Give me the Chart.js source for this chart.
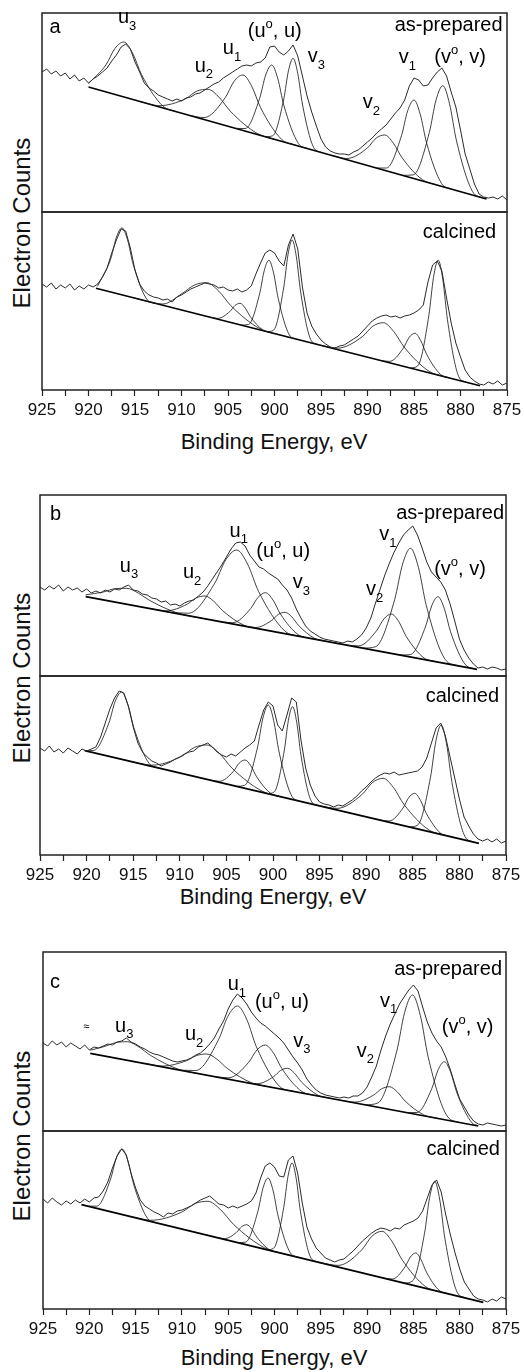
<!DOCTYPE html>
<html>
<head>
<meta charset="utf-8">
<script src="https://cdn.jsdelivr.net/npm/chart.js@4.4.1/dist/chart.umd.min.js"></script>
<style>
  html, body { margin: 0; padding: 0; background: #fff; }
  body { position: relative; width: 524px; height: 1372px; overflow: hidden;
         font-family: "Liberation Sans", Arial, Helvetica, sans-serif; color: #111; }
  canvas { position: absolute; }
  .xtitle { position: absolute; font-size: 22px; line-height: 22px; white-space: nowrap; transform: translateX(-50%); }
  .ytitle { position: absolute; font-size: 24px; line-height: 24px; white-space: nowrap;
            transform: translate(-50%, -50%) rotate(-90deg); }
</style>
</head>
<body>
<div class="xtitle" style="left:274px;top:431px">Binding Energy, eV</div>
<div class="xtitle" style="left:273px;top:886px">Binding Energy, eV</div>
<div class="xtitle" style="left:274px;top:1347px">Binding Energy, eV</div>
<div class="ytitle" style="left:22px;top:223px">Electron Counts</div>
<div class="ytitle" style="left:22px;top:678px">Electron Counts</div>
<div class="ytitle" style="left:22px;top:1136px">Electron Counts</div>
<script>
// binding energy grid of the spectra, 925 -> 875 eV in 0.5 eV steps
const energy = Array.from({ length: 101 }, (_, i) => 925 - i * 0.5);
const xTickLabels = [925, 920, 915, 910, 905, 900, 895, 890, 885, 880, 875];

// raw counts (arbitrary units), one value per energy step
const aTopCounts = [140,143,138,141,136,139,133,137,131,134, 129,133,136,140,144,151,157,165,168,163,
  150,140,129,124,121,117,115,113,111,113, 111,114,115,118,119,122,125,128,130,134,
  137,140,143,146,147,146,149,150,154,165, 166,160,157,161,167,156,136,116,100,86,
  73,65,61,59,58,58,57,60,62,66, 70,74,79,83,87,93,99,104,112,126,
  134,132,126,127,134,140,144,136,120,105, 82,58,43,28,18,15,14,15,13,16, 12];
const aBotCounts = [106,103,107,101,105,102,106,100,104,101, 105,103,106,113,122,137,150,161,159,142,
  120,106,99,95,93,92,90,91,88,93, 95,98,101,103,105,107,106,105,102,103,
  100,99,101,98,100,104,116,127,137,140, 137,129,124,145,156,141,103,77,64,56,
  50,46,43,42,44,45,48,51,54,59, 64,69,72,74,75,73,74,72,74,75,
  77,80,85,108,125,129,119,92,67,47, 33,20,13,9,6,5,8,6,9,5, 7];
const bTopCounts = [89,86,90,87,91,85,89,86,88,84, 87,83,85,83,86,84,87,86,89,91,
  86,85,82,81,78,77,74,75,71,72, 70,73,75,76,80,84,90,97,104,111,
  119,127,133,134,130,121,115,109,107,103, 100,97,91,86,78,67,58,50,45,42,
  39,37,36,35,34,33,35,34,37,41, 48,58,73,87,101,113,124,133,141,146,
  150,141,128,114,104,99,94,86,72,55, 37,26,18,12,8,9,7,9,8,6, 7];
const bBotCounts = [107,104,109,103,106,102,107,104,101,106, 104,106,108,118,132,146,157,164,162,148,
  128,112,103,98,94,92,89,91,93,96, 98,101,103,104,108,110,112,108,103,100,
  98,101,99,103,107,110,114,130,145,153, 149,130,124,140,157,153,115,87,70,59,
  53,51,50,48,50,49,52,55,59,64, 68,73,77,80,82,81,83,80,81,82,
  83,84,88,97,112,127,132,119,98,77, 56,38,29,21,16,14,16,13,16,12, 14];
const cTopCounts = [88,85,90,86,89,84,88,85,82,86, 81,84,83,85,87,86,89,90,93,89,
  87,84,82,79,77,76,74,72,70,69, 70,71,73,76,78,82,87,93,102,110,
  122,131,137,133,127,119,113,108,105,101, 97,93,88,81,74,68,61,52,46,41,
  38,36,35,34,33,34,33,35,35,38, 44,54,65,81,95,107,117,127,134,141,
  146,140,124,109,98,90,84,74,61,46, 32,24,16,10,7,6,8,7,6,5, 6];
const cBotCounts = [110,106,111,107,104,108,105,109,106,110, 107,111,112,118,127,141,153,160,154,136,
  121,109,103,100,97,95,92,96,95,98, 99,101,103,106,109,111,113,109,105,104,
  101,103,101,103,105,108,116,131,143,146, 142,133,132,149,153,136,106,82,70,61,
  56,51,49,47,49,50,54,58,63,68, 72,76,79,81,80,78,81,80,84,86,
  88,91,98,111,124,129,117,94,74,56, 40,27,20,13,10,9,7,10,8,12, 10];

// linear backgrounds, [energy, counts]
const aTopBackground = [[920, 125], [877.2, 13]];
const aBotBackground = [[919.2, 101.7], [877.9, 4.3]];
const bTopBackground = [[920.1, 79.3], [878.1, 6.7]];
const bBotBackground = [[920.2, 104.3], [877.9, 11.7]];
const cTopBackground = [[919.9, 77.7], [878.0, 5.0]];
const cBotBackground = [[920.85, 104.3], [877.45, 6.7]];

const aTopPeaks = [
  [[920,128.4],[918.1,147.5],[917.15,163.7],[916.2,170],[915.25,158.7],[914.3,137.5],[912,105.9],[910.5,100.1]],
  [[914.35,110.2],[912.43,106.3],[909.55,113.3],[908.35,120.9],[907.15,122.7],[905.95,114.6],[904.75,100.8],[901.87,78.6],[899.95,72.5]],
  [[909.1,96.5],[907.58,94.4],[905.3,114.3],[904.35,130.6],[903.4,137],[902.45,125.7],[901.5,104.4],[899.22,72.5],[897.7,66.6]],
  [[904.2,83.6],[903.16,83.5],[901.6,113.6],[900.95,136.9],[900.3,147],[899.65,133.5],[899,106.8],[897.44,68.6],[896.4,63.2]],
  [[901,75.3],[900.2,76.2],[899,113.2],[898.5,141.2],[898,153.7],[897.5,138.6],[897,108],[895.8,64.7],[895,59.6]],
  [[893.7,56.2],[892.22,53.5],[890,64.2],[889.08,73.8],[888.15,77],[887.22,68.9],[886.3,54.5],[884.08,32.2],[882.6,27.1]],
  [[889.05,44],[887.97,44],[886.35,76.2],[885.68,101.2],[885,112],[884.33,97.7],[883.65,69.2],[882.03,28.4],[880.95,22.8]],
  [[886.25,36.7],[885.09,37.1],[883.35,79.6],[882.63,112],[881.9,126.3],[881.18,108.2],[880.45,72],[878.71,20.5],[877.55,13.9]]
];
const aBotPeaks = [
  [[919.04,103.6],[917.6,131.4],[917,152.8],[916.4,162.1],[915.8,150],[915.2,125.8],[913.76,91.2],[912.8,86.6]],
  [[915.1,92],[912.02,86],[909.9,96.7],[908.6,105],[907.3,107.3],[906,98.9],[904.7,84.4],[901.58,61.3],[899.5,55.2]],
  [[907,73],[906.12,71.6],[904.8,78.5],[904.25,84.5],[903.7,86.7],[903.15,81.9],[902.6,73.3],[901.28,60.2],[900.4,57.4]],
  [[903.6,64.9],[902.8,65.5],[901.6,96.2],[901.1,119.5],[900.6,129.8],[900.1,117.1],[899.6,91.5],[898.4,55.1],[897.6,50.8]],
  [[900.8,58.3],[900.08,60],[899,103.1],[898.55,135.3],[898.1,149.9],[897.65,133.2],[897.2,98.8],[896.12,50.7],[895.4,45.6]],
  [[895.05,44.7],[893.25,41.8],[890.55,53.4],[889.43,63.8],[888.3,67.3],[887.18,58.5],[886.05,42.8],[883.35,18.5],[881.55,12.9]],
  [[888.65,29.6],[887.65,28.6],[886.15,41.8],[885.53,52.5],[884.9,56.7],[884.28,49.5],[883.65,35.9],[882.15,15.6],[881.15,12]],
  [[885.4,22],[884.6,24.1],[883.4,74.8],[882.9,112.7],[882.4,129.9],[881.9,110.3],[881.4,70.1],[880.2,13.7],[879.4,7.8]]
];
const bTopPeaks = [
  [[920.1,81.2],[918.2,84],[916.95,87.3],[915.7,87.7],[914.45,82.9],[913.2,75.4],[910.2,62.8],[908.2,58.7]],
  [[913,67],[911.48,65.2],[909.2,71.9],[908.25,78.1],[907.3,80],[906.35,74.7],[905.4,65.3],[903.12,50.8],[901.6,47.3]],
  [[910.95,63.5],[909.07,62.8],[906.25,92.8],[905.08,116],[903.9,126],[902.73,112],[901.55,84.6],[898.73,45],[896.85,39.1]],
  [[905.6,54.2],[904.32,53.3],[902.4,67.4],[901.6,78.7],[900.8,83.3],[900,76],[899.2,61.9],[897.28,41.2],[896,37.6]],
  [[903.05,49.8],[901.89,48.5],[900.15,55.5],[899.43,61.6],[898.7,63.7],[897.98,59.1],[897.25,50.5],[895.51,37.5],[894.35,34.8]],
  [[892.1,30.9],[890.82,30.1],[888.9,45.1],[888.1,57.1],[887.3,62],[886.5,54.3],[885.7,39.5],[883.78,17.9],[882.5,14.3]],
  [[890.35,27.9],[888.99,29.3],[886.95,76.3],[886.1,111.7],[885.25,127.7],[884.4,108.8],[883.55,70.4],[881.51,16.4],[880.15,10.2]],
  [[886.35,21],[885.27,21.4],[883.65,49],[882.98,70],[882.3,79.3],[881.63,67.7],[880.95,44.3],[879.33,11.1],[878.25,7]]
];
const bBotPeaks = [
  [[920.2,104.3],[919.22,104.6],[917.6,132.3],[916.93,153.7],[916.25,163],[915.58,150.8],[914.9,126.4],[913.28,91.5],[912.2,86.8]],
  [[915.2,93.3],[913.04,89.8],[909.8,98.7],[908.45,107.5],[907.1,110],[905.75,101.6],[904.4,86.9],[901.16,63.8],[899,57.9]],
  [[906.75,74.9],[905.75,73.7],[904.25,83.6],[903.63,91.9],[903,95],[902.38,89.2],[901.75,78.1],[900.25,61.6],[899.25,58.4]],
  [[903.95,68.7],[903.03,69.8],[901.65,108.1],[901.08,137],[900.5,150],[899.93,134.5],[899.35,103.1],[897.97,58.7],[897.05,53.6]],
  [[900.6,61.4],[899.88,63],[898.8,103.9],[898.35,134.5],[897.9,148.3],[897.45,132.5],[897,99.9],[895.92,54.4],[895.2,49.6]],
  [[894.95,49],[893.15,46.6],[890.45,60.5],[889.33,72.4],[888.2,76.7],[887.08,67.5],[885.95,50.6],[883.25,24.9],[881.45,19.5]],
  [[888.55,35],[887.55,34],[886.05,47],[885.43,57.5],[884.8,61.7],[884.18,54.7],[883.55,41.6],[882.05,22],[881.05,18.6]],
  [[885.4,28.1],[884.48,29.9],[883.1,77.8],[882.53,113.7],[881.95,130],[881.38,111.2],[880.8,72.7],[879.42,18.8],[878.5,13]]
];
const cTopPeaks = [
  [[919.9,80.8],[918.4,84.4],[917.15,88.4],[915.9,89.3],[914.65,84.1],[913.4,75.7],[910.4,61.8],[908.4,57.7]],
  [[913.9,67.3],[912.14,64.9],[909.5,70.3],[908.4,75.5],[907.3,77],[906.2,71.7],[905.1,62.6],[902.46,48.1],[900.7,44.4]],
  [[910.15,60.8],[908.51,60.5],[906.05,91.2],[905.03,114.8],[904,125],[902.98,111.2],[901.95,84.1],[899.49,44.9],[897.85,39.4]],
  [[906.4,54.3],[904.96,53.2],[902.8,68.6],[901.9,81],[901,86],[900.1,77.8],[899.2,62.4],[897.04,39.4],[895.6,35.5]],
  [[903.1,48.5],[901.9,47.3],[900.1,54.3],[899.35,60.5],[898.6,62.7],[897.85,57.9],[897.1,49.1],[895.3,35.8],[894.1,32.9]],
  [[892.7,30.5],[891.34,28.9],[889.3,35.9],[888.45,42.1],[887.6,44.3],[886.75,39.2],[885.9,30],[883.86,16],[882.5,12.8]],
  [[890.2,26.2],[888.84,28],[886.8,79.7],[885.95,118.5],[885.1,136],[884.25,115.5],[883.4,73.8],[881.36,15],[880,8.5]],
  [[885.7,18.4],[884.62,18.5],[883,42.7],[882.33,61.2],[881.65,69.3],[880.98,58.9],[880.3,38],[878.68,8.2],[878,5.3]]
];
const cBotPeaks = [
  [[920.2,102.8],[919.2,102.9],[917.7,130],[917.08,150.9],[916.45,160],[915.83,148.1],[915.2,124.4],[913.7,90.5],[912.7,86]],
  [[915.6,92.5],[913.36,88.7],[910,97],[908.6,105.4],[907.2,107.7],[905.8,99.1],[904.4,84.4],[901.04,61],[898.8,54.7]],
  [[906.3,71.6],[905.42,70.3],[904.1,76.7],[903.55,82.3],[903,84.3],[902.45,79.8],[901.9,71.8],[900.58,59.4],[899.7,56.7]],
  [[904,66.4],[903.12,66.9],[901.8,97.5],[901.25,120.7],[900.7,131],[900.15,118.3],[899.6,92.5],[898.28,56],[897.4,51.6]],
  [[900.8,59.2],[900.08,60.9],[899,101.7],[898.55,132.2],[898.1,146],[897.65,130.1],[897.2,97.6],[896.12,52],[895.4,47.1]],
  [[894.85,45.8],[893.13,43.6],[890.55,59.4],[889.48,72.8],[888.4,77.7],[887.33,67.9],[886.25,49.7],[883.67,22.3],[881.95,16.8]],
  [[888.2,30.9],[887.28,30],[885.9,42.2],[885.33,52],[884.75,56],[884.18,49.4],[883.6,37],[882.22,18.6],[881.3,15.4]],
  [[886,25.9],[885.12,27.8],[883.8,75.6],[883.25,111.4],[882.7,127.7],[882.15,109],[881.6,70.6],[880.28,16.9],[879.4,11.1]]
];

// peak labels, anchored at [energy, counts] of the text baseline
const U1 = [['u'], ['1', 'sub']], U2 = [['u'], ['2', 'sub']], U3 = [['u'], ['3', 'sub']];
const V1 = [['v'], ['1', 'sub']], V2 = [['v'], ['2', 'sub']], V3 = [['v'], ['3', 'sub']];
const UO = [['(u'], ['o', 'sup'], [', u)']], VO = [['(v'], ['o', 'sup'], [', v)']];
const aTopLabels = [
  { e: 924.2, v: 178.7, parts: [['a']] },
  { e: 916.84, v: 188.7, parts: U3 }, { e: 908.58, v: 140.3, parts: U2 },
  { e: 905.56, v: 157.7, parts: U1 }, { e: 902.87, v: 175.3, parts: UO },
  { e: 896.43, v: 149.7, parts: V3 }, { e: 890.52, v: 103.7, parts: V2 },
  { e: 886.65, v: 148.7, parts: V1 }, { e: 882.82, v: 148.7, parts: VO },
  { e: 875.48, v: 181, parts: [['as-prepared']], align: 'right' }
];
const aBotLabels = [{ e: 876.16, v: 151.7, parts: [['calcined']], align: 'right' }];
const bTopLabels = [
  { e: 923.93, v: 156, parts: [['b']] },
  { e: 916.43, v: 104.3, parts: U3 }, { e: 909.66, v: 97.7, parts: U2 },
  { e: 904.66, v: 139.3, parts: U1 }, { e: 901.8, v: 118.7, parts: UO },
  { e: 897.88, v: 87.7, parts: V3 }, { e: 890.02, v: 81, parts: V2 },
  { e: 888.6, v: 136, parts: V1 }, { e: 882.71, v: 101, parts: VO },
  { e: 875.21, v: 157, parts: [['as-prepared']], align: 'right' }
];
const bBotLabels = [{ e: 875.75, v: 153.3, parts: [['calcined']], align: 'right' }];
const cTopLabels = [
  { e: 924.24, v: 142.7, parts: [['c']] },
  { e: 917.22, v: 99.3, parts: U3 }, { e: 909.67, v: 91, parts: U2 },
  { e: 905.05, v: 141, parts: U1 }, { e: 902.11, v: 122.7, parts: UO },
  { e: 897.97, v: 84.3, parts: V3 }, { e: 891.12, v: 74.3, parts: V2 },
  { e: 888.61, v: 124.3, parts: V1 }, { e: 881.94, v: 98.3, parts: VO },
  { e: 920.65, v: 101, parts: [['\u2248', 'small']] },
  { e: 875.43, v: 156, parts: [['as-prepared']], align: 'right' }
];
const cBotLabels = [{ e: 875.65, v: 154.3, parts: [['calcined']], align: 'right' }];

const FAM = '"Liberation Sans", Arial, Helvetica, sans-serif';
Chart.defaults.font.family = FAM;
const PAD_X = 24, PAD_Y = 3, AXIS_H = 30;
const FONTS = { n: '20px ' + FAM, sub: '13px ' + FAM, sup: '13px ' + FAM, small: '11px ' + FAM };
const SHIFT = { n: 0, sub: 6.5, sup: -9, small: 0 };

// frame round the plot area + the text labels
const framePlugin = {
  id: 'frame',
  afterDraw(chart, args, opts) {
    const { ctx, chartArea: a, scales: { x, y } } = chart;
    ctx.save();
    ctx.strokeStyle = '#222';
    ctx.lineWidth = 1.5;
    ctx.strokeRect(a.left, a.top, a.right - a.left, a.bottom - a.top);
    ctx.fillStyle = '#000';
    ctx.textBaseline = 'alphabetic';
    (opts.labels || []).forEach(lb => {
      let w = 0;
      lb.parts.forEach(p => { ctx.font = FONTS[p[1] || 'n']; w += ctx.measureText(p[0]).width; });
      let px = x.getPixelForValue(lb.e);
      if (lb.align === 'right') px -= w;
      const py = y.getPixelForValue(lb.v);
      lb.parts.forEach(p => {
        const k = p[1] || 'n';
        ctx.font = FONTS[k];
        ctx.fillText(p[0], px, py + SHIFT[k]);
        px += ctx.measureText(p[0]).width;
      });
    });
    ctx.restore();
  }
};

const panels = [
  { left: 42, width: 465, top: 13, height: 199, counts: aTopCounts, peaks: aTopPeaks, bg: aTopBackground, labels: aTopLabels, axis: false },
  { left: 42, width: 465, top: 212, height: 178, counts: aBotCounts, peaks: aBotPeaks, bg: aBotBackground, labels: aBotLabels, axis: true },
  { left: 40, width: 466, top: 495, height: 181, counts: bTopCounts, peaks: bTopPeaks, bg: bTopBackground, labels: bTopLabels, axis: false },
  { left: 40, width: 466, top: 676, height: 179, counts: bBotCounts, peaks: bBotPeaks, bg: bBotBackground, labels: bBotLabels, axis: true },
  { left: 43, width: 463, top: 952, height: 179, counts: cTopCounts, peaks: cTopPeaks, bg: cTopBackground, labels: cTopLabels, axis: false },
  { left: 43, width: 463, top: 1131, height: 178, counts: cBotCounts, peaks: cBotPeaks, bg: cBotBackground, labels: cBotLabels, axis: true }
];

panels.forEach(p => {
  const cv = document.createElement('canvas');
  cv.width = p.width + 2 * PAD_X;
  cv.height = p.height + PAD_Y + (p.axis ? AXIS_H : PAD_Y);
  cv.style.left = (p.left - PAD_X) + 'px';
  cv.style.top = (p.top - PAD_Y) + 'px';
  document.body.appendChild(cv);

  const datasets = [
    { data: energy.map((e, i) => ({ x: e, y: p.counts[i] })), borderColor: '#2a2a2a', borderWidth: 1 },
    ...p.peaks.map(pk => ({
      data: pk.map(([x, y]) => ({ x, y })),
      borderColor: '#111', borderWidth: 0.8, cubicInterpolationMode: 'monotone'
    })),
    { data: p.bg.map(([x, y]) => ({ x, y })), borderColor: '#000', borderWidth: 1.7 }
  ];

  new Chart(cv, {
    type: 'line',
    data: { datasets },
    options: {
      responsive: false,
      animation: false,
      events: [],
      layout: { padding: { left: PAD_X, right: PAD_X, top: PAD_Y, bottom: p.axis ? 0 : PAD_Y } },
      elements: { point: { radius: 0 }, line: { tension: 0, fill: false } },
      plugins: { legend: { display: false }, tooltip: { enabled: false }, frame: { labels: p.labels } },
      scales: {
        x: {
          type: 'linear', min: 875, max: 925, reverse: true, display: p.axis,
          border: { display: false },
          grid: { drawOnChartArea: false, drawTicks: true, tickLength: 6, tickColor: '#222', tickWidth: 1.2 },
          ticks: {
            stepSize: 2.5, autoSkip: false, maxRotation: 0, padding: 4, color: '#111',
            font: { size: 17 },
            callback: v => (xTickLabels.includes(v) ? String(v) : '')
          },
          afterFit: s => { s.height = p.axis ? AXIS_H : 0; }
        },
        y: { type: 'linear', min: 0, max: p.height, display: false }
      }
    },
    plugins: [framePlugin]
  });
});
</script>
</body>
</html>
